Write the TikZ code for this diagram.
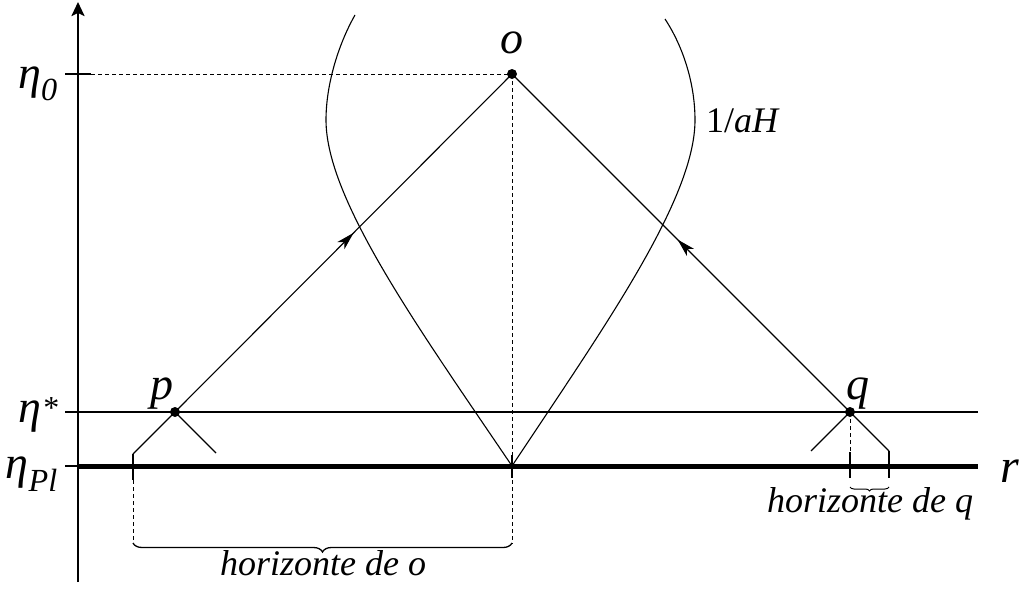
\documentclass[tikz,border=0pt]{standalone}
\usepackage{fontspec}
\setmainfont{Liberation Serif}
\usetikzlibrary{arrows.meta,decorations.pathreplacing,decorations.markings}
\begin{document}
\begin{tikzpicture}[x=1pt,y=-1pt,
  thinline/.style={line width=1.1pt},
  tickline/.style={line width=2.4pt},
  dashline/.style={line width=1pt,dash pattern=on 4pt off 3pt},
  lbl/.style={font=\fontsize{46}{50}\selectfont\itshape, inner sep=0pt},
  smalllbl/.style={font=\fontsize{36}{42}\selectfont\itshape, inner sep=0pt},
  dot/.style={circle,fill=black,inner sep=0pt,minimum size=10pt},
  midarrow/.style={postaction={decorate},decoration={markings,
     mark=at position #1 with {\arrow{Stealth[length=18pt,width=10pt,inset=5pt]}}}},
  bracestyle/.style={decorate,line width=1.3pt}
]
\useasboundingbox (0,0) rectangle (1028,589);

% key points
\coordinate (axB) at (78,582);
\coordinate (axT) at (78,2);
\node[dot] (O) at (512,74) {};
\node[dot] (P) at (175,412) {};
\node[dot] (Q) at (850,412) {};
\coordinate (pL) at (133,454);
\coordinate (pR) at (216,453);
\coordinate (qL) at (811,451);
\coordinate (qR) at (889,451);
\coordinate (oB) at (512,466);

% axis
\draw[line width=2.4pt,-{Stealth[length=14pt,width=13pt,inset=3pt]}] (axB) -- (axT);
\draw[tickline] (65,74) -- (91,74);
\draw[tickline] (65,412) -- (91,412);
\draw[tickline] (65,466) -- (78,466);

% horizontal lines
\draw[thinline] (78,412) -- (978,412);
\draw[line width=5pt] (78,466) -- (978,466);

% dashed guides
\draw[dashline] (91,74) -- (O.center);
\draw[dashline] (O.center) -- (512,544);
\draw[dashline] (133,480) -- (133,543);
\draw[dashline] (Q.center) -- (850,452);

% light cones
\draw[thinline,midarrow=0.53] (P.center) -- (O.center);
\draw[thinline,midarrow=0.51] (Q.center) -- (O.center);
\draw[thinline] (P.center) -- (pL);
\draw[thinline] (P.center) -- (pR);
\draw[thinline] (Q.center) -- (qL);
\draw[thinline] (Q.center) -- (qR);

% horizon ticks
\draw[tickline] (pL) -- (133,480);
\draw[tickline] (512,455) -- (512,478);
\draw[tickline] (850,452) -- (850,478);
\draw[tickline] (qR) -- (889,478);

% Hubble radius curves
\draw[thinline] (355,15) .. controls (338,45) and (326,85) .. (326,120)
                .. controls (326,200) and (420,330) .. (oB);
\draw[thinline] (665,19) .. controls (684,48) and (695,85) .. (695,120)
                .. controls (695,200) and (602,330) .. (oB);

% braces
\draw[bracestyle,decoration={brace,amplitude=9pt}] (512,543) -- (133,543);
\draw[bracestyle,line width=1pt,decoration={brace,amplitude=4pt}] (889,487) -- (850,487);

% labels
\node[lbl,anchor=base] (lo) at (512,53) {o};
\node[lbl,anchor=base] (lp) at (162,399) {p};
\node[lbl,anchor=base] (lq) at (858,399) {q};
\node[lbl,anchor=base east] (le0) at (58,88) {η\textsubscript{0}};
\node[lbl,anchor=base east] (les) at (58,422) {η\raisebox{0.15ex}{\fontsize{32}{34}\selectfont *}};
\node[lbl,anchor=base east] (lepl) at (58,478) {η\textsubscript{Pl}};
\node[lbl,font=\fontsize{48}{50}\selectfont\itshape,anchor=base] (lr) at (1010,482) {r};
\node[smalllbl,anchor=base] (lah) at (742,132) {\upshape 1/\itshape aH};
\node[smalllbl,anchor=base] (lho) at (323,575) {horizonte de o};
\node[smalllbl,anchor=base] (lhq) at (870,512) {horizonte de q};
\end{tikzpicture}
\end{document}
